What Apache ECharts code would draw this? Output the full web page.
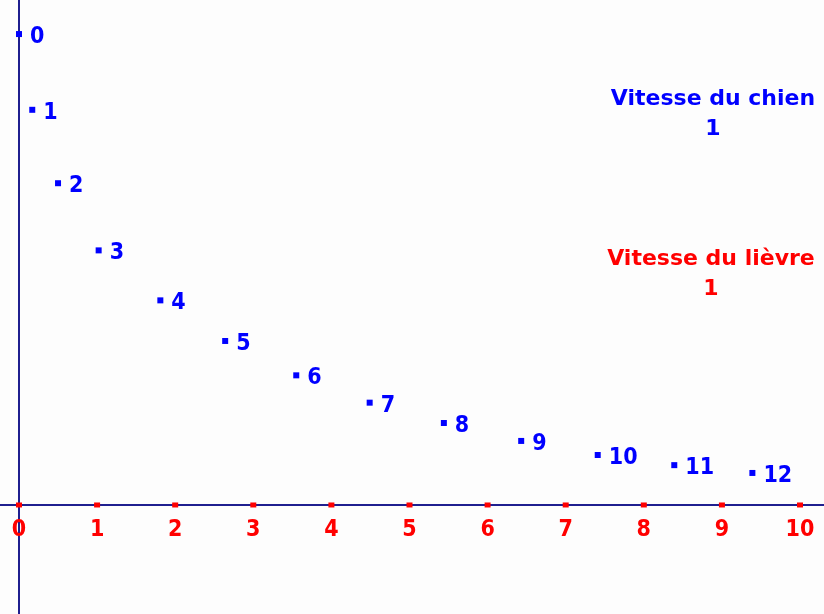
<!DOCTYPE html>
<html>
<head>
<meta charset="utf-8">
<script src="https://cdn.jsdelivr.net/npm/echarts@6/dist/echarts.min.js"></script>
<style>
  html, body { margin: 0; padding: 0; background: #fdfdfd; }
  #chart { width: 824px; height: 614px; }
</style>
</head>
<body>
<div id="chart"></div>
<script>
// positions of the dog, one per step
const stepLabels = ['0', '1', '2', '3', '4', '5', '6', '7', '8', '9', '10', '11', '12'];
const dogX = [0, 0.17, 0.50, 1.02, 1.81, 2.64, 3.55, 4.49, 5.44, 6.43, 7.41, 8.39, 9.39];
const dogY = [6.03, 5.06, 4.12, 3.26, 2.62, 2.10, 1.66, 1.31, 1.05, 0.82, 0.64, 0.51, 0.41];

// marks along the hare's path (x axis)
const tickValues = [0, 1, 2, 3, 4, 5, 6, 7, 8, 9, 10];

const dogSpeed = '1';
const hareSpeed = '1';

const chart = echarts.init(document.getElementById('chart'));

const font = 'DejaVu Sans Condensed';
const blue = '#0000ff';
const red = '#ff0000';
const axisColor = '#1f1f8f';

const option = {
    animation: false,
    backgroundColor: '#fdfdfd',
    grid: { left: 0, right: 0, top: 0, bottom: 0 },
    xAxis: {
        type: 'value',
        min: -0.243,
        max: 10.307,
        splitLine: { show: false },
        axisTick: { show: false },
        axisLabel: { show: false },
        axisLine: { show: true, onZero: true, lineStyle: { color: axisColor, width: 2 } }
    },
    yAxis: {
        type: 'value',
        min: -1.396,
        max: 6.466,
        splitLine: { show: false },
        axisTick: { show: false },
        axisLabel: { show: false },
        axisLine: { show: true, onZero: true, lineStyle: { color: axisColor, width: 2 } }
    },
    series: [
        {
            name: 'lièvre',
            type: 'scatter',
            symbol: 'rect',
            symbolSize: [6, 5],
            itemStyle: { color: red, opacity: 1 },
            data: tickValues.map(function (v) { return [v, 0]; }),
            label: {
                show: true,
                position: 'bottom',
                distance: 11,
                color: red,
                fontFamily: font,
                fontWeight: 'bold',
                fontSize: 23,
                formatter: function (p) { return String(p.value[0]); }
            }
        },
        {
            name: 'chien',
            type: 'scatter',
            symbol: 'rect',
            symbolSize: 6,
            itemStyle: { color: blue, opacity: 1 },
            data: dogX.map(function (x, i) { return [x, dogY[i]]; }),
            label: {
                show: true,
                position: 'right',
                distance: 8,
                offset: [0, 3],
                color: blue,
                fontFamily: font,
                fontWeight: 'bold',
                fontSize: 23,
                formatter: function (p) { return stepLabels[p.dataIndex]; }
            }
        }
    ],
    graphic: [
        {
            type: 'text',
            x: 713,
            y: 84,
            style: {
                text: 'Vitesse du chien\n' + dogSpeed,
                fill: blue,
                font: 'bold 22px "DejaVu Sans"',
                align: 'center',
                lineHeight: 30
            }
        },
        {
            type: 'text',
            x: 711,
            y: 244,
            style: {
                text: 'Vitesse du lièvre\n' + hareSpeed,
                fill: red,
                font: 'bold 22px "DejaVu Sans"',
                align: 'center',
                lineHeight: 30
            }
        }
    ]
};

chart.setOption(option);

window.addEventListener('resize', function () {
    chart.resize();
});
</script>
</body>
</html>
